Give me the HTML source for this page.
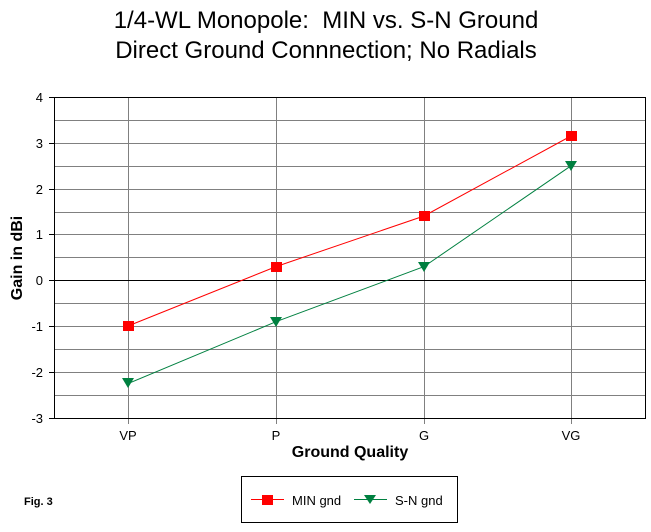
<!DOCTYPE html>
<html><head><style>html,body{margin:0;padding:0;background:#fff;}</style></head><body>
<svg width="651" height="527" xmlns="http://www.w3.org/2000/svg" font-family="Liberation Sans, Arial, sans-serif">
<rect width="651" height="527" fill="#fff"/>
<text x="326" y="28" font-size="24" text-anchor="middle">1/4-WL Monopole:&#160; MIN vs. S-N Ground</text>
<text x="326" y="58" font-size="24" text-anchor="middle">Direct Ground Connnection; No Radials</text>
<g stroke="#808080" stroke-width="1">
<line x1="54" x2="645" y1="120.5" y2="120.5"/><line x1="54" x2="645" y1="143.5" y2="143.5"/>
<line x1="54" x2="645" y1="166.5" y2="166.5"/><line x1="54" x2="645" y1="189.5" y2="189.5"/>
<line x1="54" x2="645" y1="212.5" y2="212.5"/><line x1="54" x2="645" y1="234.5" y2="234.5"/>
<line x1="54" x2="645" y1="257.5" y2="257.5"/><line x1="54" x2="645" y1="303.5" y2="303.5"/>
<line x1="54" x2="645" y1="326.5" y2="326.5"/><line x1="54" x2="645" y1="349.5" y2="349.5"/>
<line x1="54" x2="645" y1="372.5" y2="372.5"/><line x1="54" x2="645" y1="395.5" y2="395.5"/>
<line x1="128.5" x2="128.5" y1="97" y2="424"/><line x1="276.5" x2="276.5" y1="97" y2="424"/>
<line x1="424.5" x2="424.5" y1="97" y2="424"/><line x1="571.5" x2="571.5" y1="97" y2="424"/>
</g>
<g stroke="#000" stroke-width="1">
<line x1="54" x2="645" y1="280.5" y2="280.5"/>
<rect x="54.5" y="97.5" width="591" height="321" fill="none"/>
<line x1="49" x2="54" y1="97.5" y2="97.5"/><line x1="49" x2="54" y1="143.5" y2="143.5"/>
<line x1="49" x2="54" y1="189.5" y2="189.5"/><line x1="49" x2="54" y1="234.5" y2="234.5"/>
<line x1="49" x2="54" y1="280.5" y2="280.5"/><line x1="49" x2="54" y1="326.5" y2="326.5"/>
<line x1="49" x2="54" y1="372.5" y2="372.5"/><line x1="49" x2="54" y1="418.5" y2="418.5"/>
</g>
<g font-size="13" text-anchor="end">
<text x="43" y="102">4</text><text x="43" y="148">3</text><text x="43" y="194">2</text>
<text x="43" y="239">1</text><text x="43" y="285">0</text><text x="43" y="331">-1</text>
<text x="43" y="377">-2</text><text x="43" y="423">-3</text>
</g>
<g font-size="13" text-anchor="middle">
<text x="128" y="440">VP</text><text x="276" y="440">P</text><text x="424" y="440">G</text><text x="571" y="440">VG</text>
</g>
<text x="350" y="457" font-size="16" font-weight="bold" text-anchor="middle">Ground Quality</text>
<text transform="translate(22,258) rotate(-90)" font-size="16" font-weight="bold" text-anchor="middle">Gain in dBi</text>
<polyline points="128,326 276,266.6 424,216 571,136" fill="none" stroke="#ff0000" stroke-width="1"/>
<polyline points="128,383.6 276,321.7 424,266.6 571,165.8" fill="none" stroke="#008040" stroke-width="1"/>
<g fill="#ff0000">
<rect x="123" y="321" width="11" height="10"/><rect x="271" y="262" width="11" height="10"/>
<rect x="419" y="211" width="11" height="10"/><rect x="566" y="131" width="11" height="10"/>
</g>
<g fill="#008040">
<polygon points="122,378 134,378 128,388"/><polygon points="270,317 282,317 276,327"/>
<polygon points="418,262 430,262 424,272"/><polygon points="565,161 577,161 571,171"/>
</g>
<text x="24" y="505" font-size="11" font-weight="bold">Fig. 3</text>
<rect x="241.5" y="476.5" width="216" height="46" fill="none" stroke="#000"/>
<line x1="251" x2="284" y1="499.5" y2="499.5" stroke="#ff0000"/>
<rect x="262" y="495" width="11" height="10" fill="#ff0000"/>
<text x="292" y="505" font-size="13">MIN gnd</text>
<line x1="354" x2="387" y1="499.5" y2="499.5" stroke="#008040"/>
<polygon points="364,495 376,495 370,504" fill="#008040"/>
<text x="395" y="505" font-size="13">S-N gnd</text>
</svg>
</body></html>
